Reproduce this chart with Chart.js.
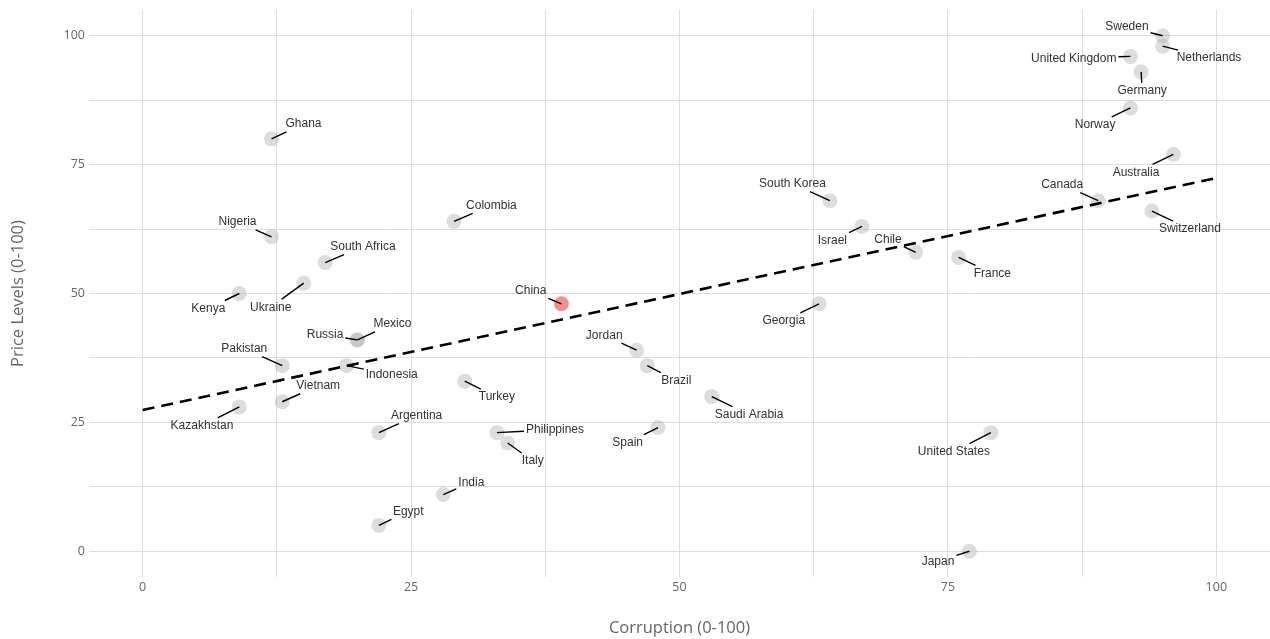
<!DOCTYPE html>
<html>
<head>
<meta charset="utf-8">
<script src="https://cdn.jsdelivr.net/npm/chart.js@4/dist/chart.umd.min.js"></script>
<style>
	html, body { margin: 0; padding: 0; background: #fff; overflow: hidden; }
	#scatterChart { display: block; }
</style>
</head>
<body>
<canvas id="scatterChart" width="1270" height="639"></canvas>
<script>
	// data
	var countries = ["Ghana", "Nigeria", "South Africa", "Ukraine", "Kenya", "Russia", "Mexico", "Pakistan", "Indonesia",
		"Vietnam", "Kazakhstan", "Argentina", "Egypt", "India", "Turkey", "Philippines", "Italy", "Colombia", "China",
		"Jordan", "Brazil", "Spain", "Saudi Arabia", "Georgia", "South Korea", "Israel", "Chile", "France",
		"United States", "Japan", "Canada", "Switzerland", "Australia", "Norway", "Germany", "United Kingdom",
		"Sweden", "Netherlands"];
	var corruption = [12, 12, 17, 15, 9, 20, 20, 13, 19,
		13, 9, 22, 22, 28, 30, 33, 34, 29, 39,
		46, 47, 48, 53, 63, 64, 67, 72, 76,
		79, 77, 89, 94, 96, 92, 93, 92,
		95, 95];
	var priceLevels = [80, 61, 56, 52, 50, 41, 41, 36, 36,
		29, 28, 23, 5, 11, 33, 23, 21, 64, 48,
		39, 36, 24, 30, 48, 68, 63, 58, 57,
		23, 0, 68, 66, 77, 86, 93, 96,
		100, 98];
	var fitX = [0, 100];
	var fitY = [27.4, 72.4];
	var xTicks = [0, 25, 50, 75, 100];
	var yTicks = [0, 25, 50, 75, 100];
	var highlight = "China";

	// label placement (px offset from the point, text alignment)
	var labelPlace = {
		"Ghana": [14, -15, "left"], "Nigeria": [-15, -15, "right"], "South Africa": [5, -16, "left"],
		"Ukraine": [-33, 24, "center"], "Kenya": [-14, 15, "right"], "Russia": [-14, -5, "right"],
		"Mexico": [16, -16, "left"], "Pakistan": [-15, -17, "right"], "Indonesia": [19, 9, "left"],
		"Vietnam": [14, -16, "left"], "Kazakhstan": [-6, 19, "right"], "Argentina": [12, -17, "left"],
		"Egypt": [14, -14, "left"], "India": [15, -12, "left"], "Turkey": [14, 16, "left"],
		"Philippines": [29, -3, "left"], "Italy": [25, 18, "center"], "Colombia": [12, -16, "left"],
		"China": [-15, -13, "right"], "Jordan": [-14, -15, "right"], "Brazil": [14, 15, "left"],
		"Spain": [-15, 15, "right"], "Saudi Arabia": [3, 18, "left"], "Georgia": [-14, 17, "right"],
		"South Korea": [-4, -17, "right"], "Israel": [-15, 14, "right"], "Chile": [-14, -13, "right"],
		"France": [15, 16, "left"], "United States": [-37, 19, "center"], "Japan": [-15, 10, "right"],
		"Canada": [-15, -16, "right"], "Switzerland": [7, 18, "left"], "Australia": [-14, 18, "right"],
		"Norway": [-15, 17, "right"], "Germany": [1, 19, "center"], "United Kingdom": [-14, 2, "right"],
		"Sweden": [-14, -9, "right"], "Netherlands": [14, 12, "left"]
	};

	var points = [];
	for (var i = 0; i < countries.length; i++) {
		points.push({ x: corruption[i], y: priceLevels[i] });
	} // end for
	var fitPoints = [];
	for (var j = 0; j < fitX.length; j++) {
		fitPoints.push({ x: fitX[j], y: fitY[j] });
	} // end for

	// country labels with leader segments
	var repelLabels = {
		id: "repelLabels",
		afterDatasetsDraw: function(chart) {
			var ctx = chart.ctx;
			var meta = chart.getDatasetMeta(1);
			ctx.save();
			ctx.font = "12px 'Liberation Sans', Arial, sans-serif";
			ctx.textBaseline = "middle";
			for (var k = 0; k < meta.data.length; k++) {
				var el = meta.data[k];
				var name = countries[k];
				var place = labelPlace[name];
				var w = ctx.measureText(name).width;
				var h = 12;
				var ax = el.x + place[0];
				var cy = el.y + place[1];
				var cx = ax;
				if (place[2] == "left") cx = ax + w / 2;
				if (place[2] == "right") cx = ax - w / 2;
				// segment from point to the box edge along the centre line
				var dx = el.x - cx;
				var dy = el.y - cy;
				var tx = dx != 0 ? (w / 2 + 2) / Math.abs(dx) : 99;
				var ty = dy != 0 ? (h / 2 + 2) / Math.abs(dy) : 99;
				var t = Math.min(tx, ty);
				if (t < 1) {
					ctx.beginPath();
					ctx.strokeStyle = "#000";
					ctx.lineWidth = 1.4;
					ctx.moveTo(el.x, el.y);
					ctx.lineTo(cx + dx * t, cy + dy * t);
					ctx.stroke();
				} // end if
				ctx.fillStyle = "#333";
				ctx.textAlign = "center";
				ctx.fillText(name, cx, cy);
			} // end for
			ctx.restore();
		}
	}; // repelLabels

	function tickLabel(list) {
		return function(value) {
			return list.indexOf(value) >= 0 ? String(value) : "";
		};
	} // tickLabel

	var chart = new Chart(document.getElementById("scatterChart"), {
		type: "scatter",
		data: {
			datasets: [{
				type: "line",
				data: fitPoints,
				borderColor: "#000",
				borderWidth: 2.6,
				borderDash: [12, 7],
				pointRadius: 0,
				fill: false,
				order: 0
			}, {
				data: points,
				pointRadius: 7.5,
				pointHoverRadius: 7.5,
				borderWidth: 0,
				pointBackgroundColor: function(c) {
					return countries[c.dataIndex] == highlight ? "rgba(235,70,70,0.6)" : "rgba(170,170,170,0.4)";
				},
				order: 1
			}]
		},
		options: {
			animation: false,
			responsive: false,
			devicePixelRatio: 1,
			layout: { autoPadding: false, padding: { top: 10, right: 0, left: 0, bottom: 0 } },
			plugins: {
				legend: { display: false },
				tooltip: { enabled: false }
			},
			scales: {
				x: {
					type: "linear",
					min: -5,
					max: 105,
					afterFit: function(s) {
						s.height = 62;
						s.paddingLeft = 0;
						s.paddingRight = 0;
					},
					border: { display: false },
					grid: { color: "#dedede", lineWidth: 1, drawTicks: false },
					ticks: {
						stepSize: 12.5,
						includeBounds: false,
						autoSkip: false,
						maxRotation: 0,
						padding: 3,
						color: "#666",
						font: { family: "'Open Sans', sans-serif", size: 12.5 },
						callback: tickLabel(xTicks)
					},
					title: {
						display: true,
						text: "Corruption (0-100)",
						color: "#666",
						font: { family: "'Open Sans', sans-serif", size: 16.5 },
						padding: { top: 0, bottom: 1 }
					}
				},
				y: {
					type: "linear",
					min: -5,
					max: 105,
					afterFit: function(s) {
						s.width = 89;
						s.paddingTop = 0;
						s.paddingBottom = 0;
					},
					border: { display: false },
					grid: { color: "#dedede", lineWidth: 1, drawTicks: false },
					ticks: {
						stepSize: 12.5,
						includeBounds: false,
						autoSkip: false,
						padding: 4,
						color: "#666",
						font: { family: "'Open Sans', sans-serif", size: 12.5 },
						callback: tickLabel(yTicks)
					},
					title: {
						display: true,
						text: "Price Levels (0-100)",
						color: "#666",
						font: { family: "'Open Sans', sans-serif", size: 16.5 },
						padding: { top: 8, bottom: 0 }
					}
				}
			}
		},
		plugins: [repelLabels]
	}); // end chart
</script>
</body>
</html>
